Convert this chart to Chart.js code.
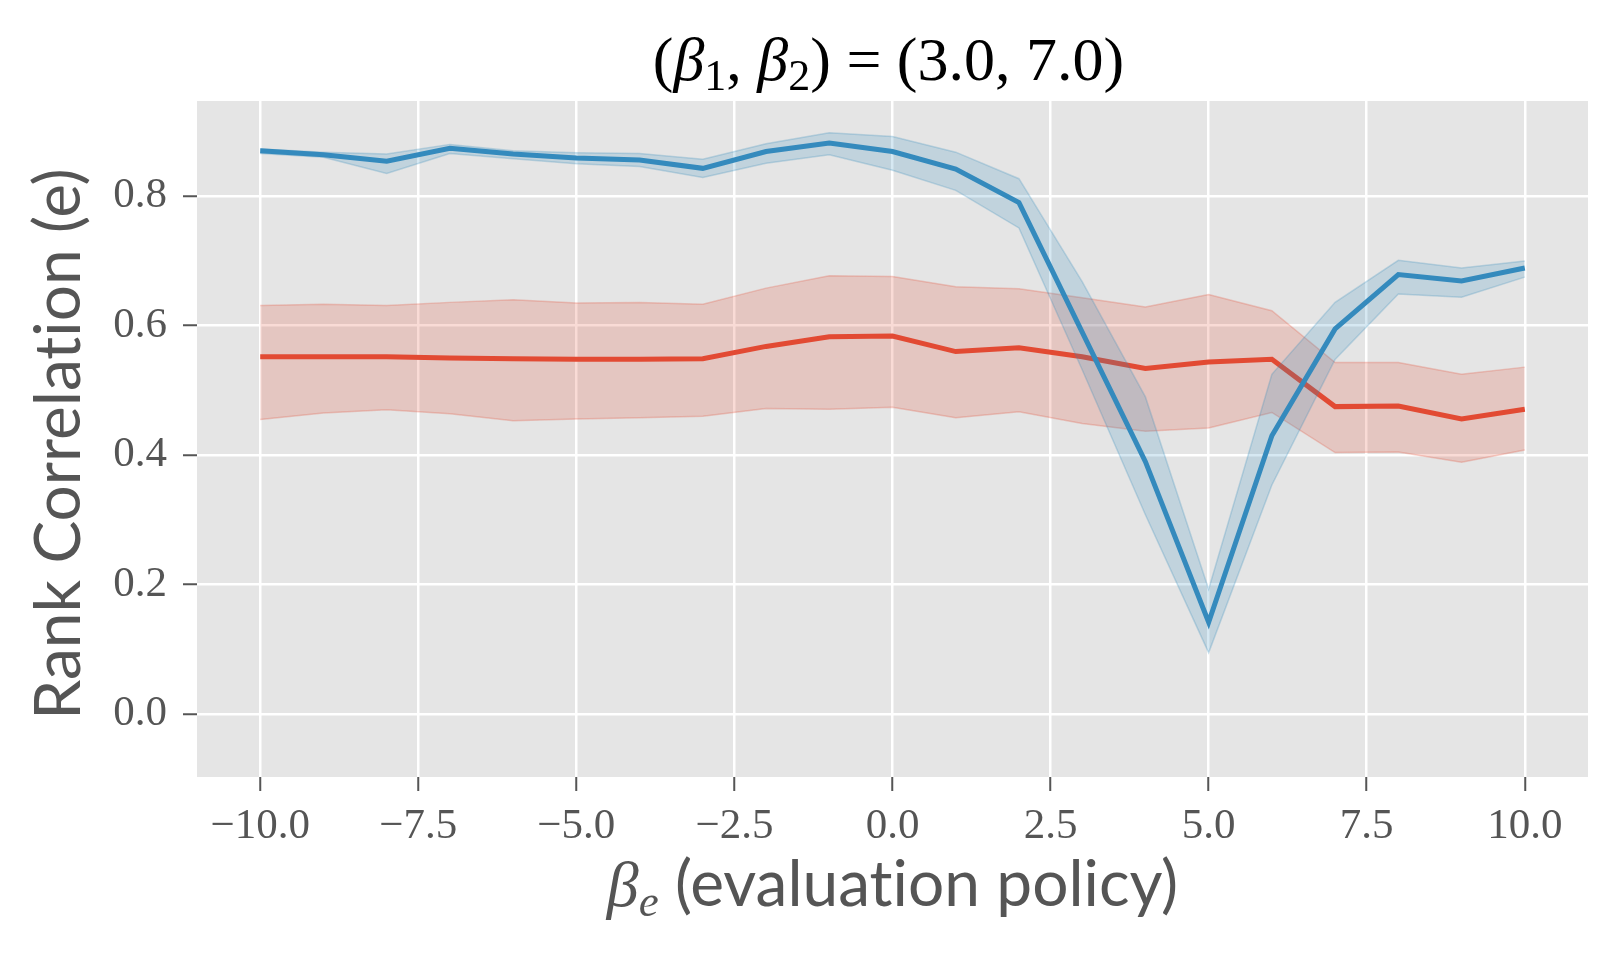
<!DOCTYPE html>
<html>
<head>
<meta charset="utf-8">
<script src="https://cdn.jsdelivr.net/npm/chart.js@4.4.1/dist/chart.umd.min.js"></script>
<style>
  html, body { margin: 0; padding: 0; background: #fff; }
  canvas { display: block; }
</style>
</head>
<body>
<canvas id="grafico" width="1620" height="958"></canvas>
<script>
// valores
var betaE = [-10, -9, -8, -7, -6, -5, -4, -3, -2, -1, 0, 1, 2, 3, 4, 5, 6, 7, 8, 9, 10];

var azulMedia = [0.870, 0.864, 0.854, 0.874, 0.865, 0.859, 0.856, 0.843, 0.869, 0.882, 0.869,
                 0.842, 0.790, 0.590, 0.390, 0.142, 0.430, 0.595, 0.679, 0.669, 0.689];
var azulSup = [0.873, 0.868, 0.865, 0.880, 0.870, 0.867, 0.866, 0.857, 0.881, 0.898, 0.892,
               0.868, 0.827, 0.668, 0.490, 0.193, 0.525, 0.636, 0.701, 0.689, 0.700];
var azulInf = [0.866, 0.860, 0.835, 0.866, 0.858, 0.850, 0.846, 0.829, 0.851, 0.864, 0.840,
               0.809, 0.751, 0.532, 0.308, 0.095, 0.354, 0.548, 0.649, 0.644, 0.675];

var rojoMedia = [0.552, 0.552, 0.552, 0.550, 0.549, 0.548, 0.548, 0.549, 0.568, 0.583, 0.584,
                 0.560, 0.566, 0.552, 0.534, 0.544, 0.548, 0.475, 0.476, 0.456, 0.471];
var rojoSup = [0.631, 0.633, 0.631, 0.636, 0.640, 0.635, 0.636, 0.633, 0.658, 0.677, 0.676,
               0.660, 0.657, 0.643, 0.629, 0.648, 0.623, 0.543, 0.543, 0.525, 0.536];
var rojoInf = [0.455, 0.465, 0.470, 0.464, 0.453, 0.456, 0.458, 0.460, 0.472, 0.471, 0.474,
               0.458, 0.467, 0.449, 0.437, 0.442, 0.466, 0.404, 0.405, 0.389, 0.408];

var ticksX = [-10, -7.5, -5, -2.5, 0, 2.5, 5, 7.5, 10];
var ticksY = [0, 0.2, 0.4, 0.6, 0.8];

var AZUL = '52,138,189';
var ROJO = '226,74,51';
var SERIF = '"Liberation Serif", "DejaVu Serif", serif';
var SANS = 'Lato, "Liberation Sans", sans-serif';

function puntos(ys) {
    return betaE.map(function (x, i) {
        return { x: x, y: ys[i] };
    });
}

function formato(v) {
    var s = Math.abs(v).toFixed(1);
    return v < 0 ? '\u2212' + s : s;
}

// texto con partes (cursiva, subindices)
function textoRico(ctx, partes, cx, base) {
    var total = 0;
    partes.forEach(function (p) {
        ctx.font = p.font;
        p.w = ctx.measureText(p.t).width;
        total += p.w;
    });
    var x = cx - total / 2;
    ctx.textAlign = 'left';
    ctx.textBaseline = 'alphabetic';
    partes.forEach(function (p) {
        ctx.font = p.font;
        ctx.fillText(p.t, x, base + (p.dy || 0));
        x += p.w;
    });
}

var fondo = {
    id: 'fondo',
    beforeDraw: function (chart) {
        var a = chart.chartArea;
        var ctx = chart.ctx;
        ctx.save();
        ctx.fillStyle = '#E5E5E5';
        ctx.fillRect(a.left, a.top, a.right - a.left, a.bottom - a.top);
        ctx.restore();
    }
};

var textos = {
    id: 'textos',
    afterDraw: function (chart) {
        var a = chart.chartArea;
        var ctx = chart.ctx;
        var cx = (a.left + a.right) / 2;
        ctx.save();

        ctx.fillStyle = '#000';
        textoRico(ctx, [
            { t: '(', font: '62px ' + SERIF },
            { t: '\u03B2', font: 'italic 62px ' + SERIF },
            { t: '1', font: '44px ' + SERIF, dy: 10 },
            { t: ', ', font: '62px ' + SERIF },
            { t: '\u03B2', font: 'italic 62px ' + SERIF },
            { t: '2', font: '44px ' + SERIF, dy: 10 },
            { t: ') = (3.0, 7.0)', font: '62px ' + SERIF }
        ], cx - 4, 80);

        ctx.fillStyle = '#555';
        textoRico(ctx, [
            { t: '\u03B2', font: 'italic 64px ' + SERIF },
            { t: 'e', font: 'italic 45px ' + SERIF, dy: 10 },
            { t: ' (evaluat\u200Cion policy)', font: '64px ' + SANS }
        ], cx, 906);

        ctx.translate(80, (a.top + a.bottom) / 2 + 5);
        ctx.rotate(-Math.PI / 2);
        textoRico(ctx, [
            { t: 'Rank Correlat\u200Cion (e)', font: '64px ' + SANS }
        ], 0, 0);
        ctx.restore();
    }
};

var ctx = document.getElementById('grafico').getContext('2d');

new Chart(ctx, {
    type: 'line',
    data: {
        datasets: [
            {
                data: puntos(azulMedia),
                borderColor: 'rgb(' + AZUL + ')',
                borderWidth: 5,
                pointRadius: 0,
                fill: false,
                order: 1
            },
            {
                data: puntos(azulSup),
                borderColor: 'rgba(' + AZUL + ',0.25)',
                backgroundColor: 'rgba(' + AZUL + ',0.2)',
                borderWidth: 1.5,
                pointRadius: 0,
                fill: '+1',
                order: 2
            },
            {
                data: puntos(azulInf),
                borderColor: 'rgba(' + AZUL + ',0.25)',
                borderWidth: 1.5,
                pointRadius: 0,
                fill: false,
                order: 2
            },
            {
                data: puntos(rojoMedia),
                borderColor: 'rgb(' + ROJO + ')',
                borderWidth: 5,
                pointRadius: 0,
                fill: false,
                order: 3
            },
            {
                data: puntos(rojoSup),
                borderColor: 'rgba(' + ROJO + ',0.25)',
                backgroundColor: 'rgba(' + ROJO + ',0.2)',
                borderWidth: 1.5,
                pointRadius: 0,
                fill: '+1',
                order: 4
            },
            {
                data: puntos(rojoInf),
                borderColor: 'rgba(' + ROJO + ',0.25)',
                borderWidth: 1.5,
                pointRadius: 0,
                fill: false,
                order: 4
            }
        ]
    },
    options: {
        responsive: false,
        devicePixelRatio: 1,
        animation: false,
        layout: {
            padding: { top: 101, right: 32, left: 0, bottom: 0 }
        },
        plugins: {
            legend: { display: false },
            title: { display: false },
            tooltip: { enabled: false }
        },
        scales: {
            x: {
                type: 'linear',
                min: -11,
                max: 11,
                afterBuildTicks: function (s) {
                    s.ticks = ticksX.map(function (v) { return { value: v }; });
                },
                afterFit: function (s) { s.height = 181; },
                ticks: {
                    callback: function (v) { return formato(v); },
                    font: { family: SERIF, size: 43 },
                    color: '#555',
                    padding: 10,
                    maxRotation: 0,
                    autoSkip: false
                },
                grid: {
                    color: '#fff',
                    lineWidth: 2.5,
                    tickColor: '#555',
                    tickLength: 14,
                    tickWidth: 2
                },
                border: { display: false }
            },
            y: {
                min: -0.097,
                max: 0.947,
                afterBuildTicks: function (s) {
                    s.ticks = ticksY.map(function (v) { return { value: v }; });
                },
                afterFit: function (s) { s.width = 197; },
                ticks: {
                    callback: function (v) { return v.toFixed(1); },
                    font: { family: SERIF, size: 43 },
                    color: '#555',
                    padding: 16
                },
                grid: {
                    color: '#fff',
                    lineWidth: 2.5,
                    tickColor: '#555',
                    tickLength: 14,
                    tickWidth: 2
                },
                border: { display: false }
            }
        }
    },
    plugins: [fondo, textos]
});
</script>
</body>
</html>
